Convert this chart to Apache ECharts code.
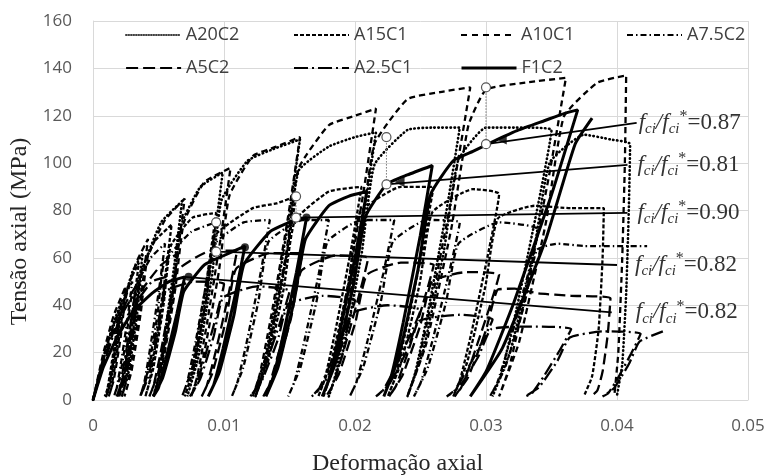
<!DOCTYPE html>
<html>
<head>
<meta charset="utf-8">
<script src="https://cdn.jsdelivr.net/npm/echarts/dist/echarts.min.js"></script>
<style>
html,body{margin:0;padding:0;background:#fff}
#chart{width:766px;height:476px}
</style>
</head>
<body>
<div id="chart"></div>
<script>
// Axis ticks
const xTickLabels = ['0', '0.01', '0.02', '0.03', '0.04', '0.05'];
const yTickLabels = ['0', '20', '40', '60', '80', '100', '120', '140', '160'];

// Cyclic stress-strain curves: [strain, stress (MPa)]
const A20C2 = [
  [0,0],[0.0009,20],[0.0016,33],[0.0022,42],
  [0.0019,29.4],[0.00148,13.9],[0.00118,4.2],[0.0010,1.5],[0.00136,7.6],[0.00184,23.1],[0.00216,37],
  [0.0030,54],[0.0038,62],
  [0.0034,43.4],[0.00284,20.5],[0.00244,6.2],[0.0022,1.5],[0.0027,11.2],[0.00332,34.1],[0.00375,54.6],
  [0.0052,75],[0.0068,84],
  [0.00625,58.8],[0.00548,27.7],[0.00493,8.4],[0.0046,1.5],[0.00526,15.1],[0.00614,46.2],[0.00673,73.9],
  [0.0082,90],[0.0099,96],
  [0.00923,67.2],[0.00828,31.7],[0.0076,9.6],[0.0072,1.5],[0.00801,17.3],[0.00909,52.8],[0.00982,84.5],
  [0.0118,101],[0.0138,106],[0.0158,110],
  [0.01495,77],[0.01376,36.3],[0.01291,11],[0.0124,1.5],[0.01342,19.8],[0.01478,60.5],[0.0157,96.8],
  [0.0180,107],[0.0200,111],[0.0216,113],
  [0.0207,79.1],[0.01944,37.3],[0.01854,11.3],[0.0180,1.5],[0.01908,20.3],[0.02052,62.2],[0.02149,99.4],
  [0.0240,114],[0.0260,115],[0.0280,115],
  [0.0270,80.5],[0.0256,38],[0.0246,11.5],[0.0240,1.5],[0.0252,20.7],[0.0268,63.3],[0.02788,101.2],
  [0.0300,115],[0.0330,115],[0.0350,114],
  [0.03388,79.8],[0.0323,37.6],[0.03118,11.4],[0.0305,1.5],[0.03185,20.5],[0.03365,62.7],[0.03487,100.3],
  [0.0375,112],[0.0395,110],[0.0410,108],
  [0.0409,80],[0.0407,45],[0.0404,15],[0.0400,2]
];
const A15C1 = [
  [0,0],[0.0008,18],[0.0014,29],[0.0020,38],
  [0.00173,26.6],[0.00134,12.5],[0.00107,3.8],[0.0009,1.5],[0.00123,6.8],[0.00167,20.9],[0.00197,33.4],
  [0.0028,50],[0.0035,58],
  [0.0031,40.6],[0.00254,19.1],[0.00214,5.8],[0.0019,1.5],[0.00238,10.4],[0.0030,31.9],[0.00345,51],
  [0.0047,67],[0.0060,74],
  [0.0055,51.8],[0.0048,24.4],[0.0043,7.4],[0.0040,1.5],[0.0046,13.3],[0.0054,40.7],[0.00594,65.1],
  [0.0076,77],[0.0094,79],
  [0.0088,55.3],[0.00796,26.1],[0.0074,7.9],[0.0070,1.5],[0.00772,14.2],[0.00868,43.5],[0.00933,69.5],
  [0.0122,81],[0.0140,83],[0.0155,86],
  [0.01473,60.2],[0.01364,28.4],[0.01286,8.6],[0.0124,1.5],[0.01333,15.5],[0.01457,47.3],[0.01541,75.7],
  [0.0180,88],[0.0205,90],
  [0.01968,63],[0.01852,29.7],[0.0177,9],[0.0172,1.5],[0.01819,16.2],[0.01951,49.5],[0.0204,79.2],
  [0.0235,90],[0.0260,90],
  [0.02513,63],[0.0239,29.7],[0.02303,9],[0.0225,1.5],[0.02355,16.2],[0.02495,49.5],[0.0259,79.2],
  [0.0290,89],[0.0310,87],
  [0.03013,60.9],[0.0289,28.7],[0.02803,8.7],[0.0275,1.5],[0.02855,15.7],[0.02995,47.9],[0.0309,76.6],
  [0.0337,82],[0.0365,81],[0.0390,81],
  [0.0389,60],[0.0386,30],[0.0381,10],[0.0375,2]
];
const A10C1 = [
  [0,0],[0.0008,20],[0.0016,36],[0.0025,48],
  [0.00218,33.6],[0.00172,15.8],[0.00139,4.8],[0.0012,1.5],[0.00159,8.6],[0.00211,26.4],[0.00246,42.2],
  [0.0033,58],[0.0042,68],
  [0.00375,47.6],[0.00312,22.4],[0.00267,6.8],[0.0024,1.5],[0.00294,12.2],[0.00366,37.4],[0.00415,59.8],
  [0.0055,76],[0.0070,85],
  [0.0064,59.5],[0.00556,28],[0.0050,8.5],[0.0046,1.5],[0.00532,15.3],[0.00628,46.8],[0.00693,74.8],
  [0.0085,92],[0.0105,98],
  [0.00975,68.6],[0.0087,32.3],[0.00795,9.8],[0.0075,1.5],[0.0084,17.6],[0.0096,53.9],[0.01041,86.2],
  [0.0122,103],[0.0140,107],[0.0158,111],
  [0.0149,77.7],[0.01364,36.6],[0.01274,11.1],[0.0122,1.5],[0.01328,20],[0.01472,61],[0.01569,97.7],
  [0.0180,116],[0.0200,120],[0.0216,123],
  [0.0206,86.1],[0.0192,40.6],[0.0182,12.3],[0.0176,1.5],[0.0188,22.1],[0.0204,67.7],[0.02148,108],
  [0.0240,127],[0.0265,130],[0.0288,132],
  [0.0276,92.4],[0.02592,43.6],[0.02472,13.2],[0.0240,1.5],[0.02544,23.8],[0.02736,72.6],[0.02866,116],
  [0.0300,131],[0.0330,134],[0.0361,136],
  [0.03483,95.2],[0.03304,44.9],[0.03177,13.6],[0.0310,1.5],[0.03253,24.5],[0.03457,74.8],[0.03595,119.7],
  [0.0385,134],[0.0407,137],
  [0.0406,100],[0.0404,60],[0.0401,20],[0.0398,2]
];
const A7_5C2 = [
  [0,0],[0.0008,17],[0.0017,33],[0.0024,44],[0.0030,50],
  [0.00265,35],[0.00216,16.5],[0.00181,5],[0.0016,1.5],[0.00202,9],[0.00258,27.5],[0.00296,44],
  [0.0044,60],[0.0055,66],
  [0.00503,46.2],[0.00436,21.8],[0.00389,6.6],[0.0036,1.5],[0.00417,11.9],[0.00493,36.3],[0.00544,58.1],
  [0.0075,71],[0.0094,75],
  [0.00875,52.5],[0.00784,24.8],[0.00719,7.5],[0.0068,1.5],[0.00758,13.5],[0.00862,41.3],[0.00932,66],
  [0.0115,75],[0.0135,76],
  [0.01278,53.2],[0.01176,25.1],[0.01103,7.6],[0.0106,1.5],[0.01147,13.7],[0.01263,41.8],[0.01341,66.9],
  [0.0160,76],[0.0180,76],
  [0.01723,53.2],[0.01614,25.1],[0.01537,7.6],[0.0149,1.5],[0.01583,13.7],[0.01707,41.8],[0.01791,66.9],
  [0.0205,76],[0.0230,76],
  [0.02215,53.2],[0.02096,25.1],[0.02011,7.6],[0.0196,1.5],[0.02062,13.7],[0.02198,41.8],[0.0229,66.9],
  [0.0255,76],[0.0280,75],
  [0.02713,52.5],[0.0259,24.8],[0.02503,7.5],[0.0245,1.5],[0.02555,13.5],[0.02695,41.3],[0.0279,66],
  [0.0310,75],[0.0340,72],
  [0.03308,50.4],[0.03178,23.8],[0.03086,7.2],[0.0303,1.5],[0.03141,13],[0.03289,39.6],[0.03389,63.4],
  [0.0355,66],[0.0375,65],[0.0400,65],[0.0423,65]
];
const A5C2 = [
  [0,0],[0.0008,16],[0.0017,31],[0.0026,42],[0.0035,50],
  [0.00313,35],[0.0026,16.5],[0.00223,5],[0.0020,1.5],[0.00245,9],[0.00305,27.5],[0.00346,44],
  [0.0052,57],[0.0065,62],
  [0.00595,43.4],[0.00518,20.5],[0.00463,6.2],[0.0043,1.5],[0.00496,11.2],[0.00584,34.1],[0.00643,54.6],
  [0.0090,63],[0.0110,63],
  [0.01033,44.1],[0.00938,20.8],[0.0087,6.3],[0.0083,1.5],[0.00911,11.3],[0.01019,34.7],[0.01092,55.4],
  [0.0135,62],[0.0160,62],
  [0.01525,43.4],[0.0142,20.5],[0.01345,6.2],[0.0130,1.5],[0.0139,11.2],[0.0151,34.1],[0.01591,54.6],
  [0.0185,61],[0.0210,60],
  [0.0202,42],[0.01908,19.8],[0.01828,6],[0.0178,1.5],[0.01876,10.8],[0.02004,33],[0.0209,52.8],
  [0.0235,58],[0.0260,57],
  [0.02515,39.9],[0.02396,18.8],[0.02311,5.7],[0.0226,1.5],[0.02362,10.3],[0.02498,31.4],[0.0259,50.2],
  [0.0285,54],[0.0310,53],
  [0.03015,37.1],[0.02896,17.5],[0.02811,5.3],[0.0276,1.5],[0.02862,9.5],[0.02998,29.2],[0.0309,46.6],
  [0.0322,47],[0.0340,45],[0.0365,44],[0.0395,43],
  [0.0393,28],[0.0389,12],[0.0385,4],[0.0380,1.5]
];
const A2_5C1 = [
  [0,0],[0.0008,15],[0.0016,28],[0.0024,38],[0.0032,45],
  [0.00285,31.5],[0.00236,14.9],[0.00201,4.5],[0.0018,1.5],[0.00222,8.1],[0.00278,24.8],[0.00316,39.6],
  [0.0045,50],[0.0056,52],
  [0.0051,36.4],[0.0044,17.2],[0.0039,5.2],[0.0036,1.5],[0.0042,9.4],[0.0050,28.6],[0.00554,45.8],
  [0.0078,50],[0.0100,49],
  [0.00935,34.3],[0.00844,16.2],[0.00779,4.9],[0.0074,1.5],[0.00818,8.8],[0.00922,27],[0.00992,43.1],
  [0.0125,48],[0.0150,46],
  [0.01425,32.2],[0.0132,15.2],[0.01245,4.6],[0.0120,1.5],[0.0129,8.3],[0.0141,25.3],[0.01491,40.5],
  [0.0175,44],[0.0200,42],
  [0.01918,29.4],[0.01802,13.9],[0.0172,4.2],[0.0167,1.5],[0.01769,7.6],[0.01901,23.1],[0.0199,37],
  [0.0225,40],[0.0250,38],
  [0.02415,26.6],[0.02296,12.5],[0.02211,3.8],[0.0216,1.5],[0.02262,6.8],[0.02398,20.9],[0.0249,33.4],
  [0.0280,36],[0.0305,34],
  [0.02963,23.8],[0.0284,11.2],[0.02753,3.4],[0.0270,1.5],[0.02805,6.1],[0.02945,18.7],[0.0304,29.9],
  [0.0335,31],[0.0365,30],
  [0.03563,21],[0.0344,9.9],[0.03353,3],[0.0330,1.5],[0.03405,5.4],[0.03545,16.5],[0.0364,26.4],
  [0.0390,29],[0.0418,28],
  [0.04108,19.6],[0.04006,9.2],[0.03933,2.8],[0.0389,1.5],[0.03977,5],[0.04093,15.4],[0.04171,24.6],
  [0.0435,29]
];
const F1C2 = [
  [0,0],[0.0008,14],[0.0018,26],[0.0030,37],[0.0045,45],[0.0058,50],[0.0070,52],
  [0.0064,36.4],[0.00556,17.2],[0.0050,5.2],[0.0046,1.5],[0.00532,9.4],[0.00628,28.6],[0.00693,45.8],
  [0.0085,57],[0.0100,61],[0.0116,65],
  [0.0109,45.5],[0.00992,21.5],[0.00922,6.5],[0.0088,1.5],[0.00964,11.7],[0.01076,35.8],[0.01152,57.2],
  [0.0135,71],[0.0150,75],[0.0163,77],
  [0.01553,53.9],[0.01444,25.4],[0.01366,7.7],[0.0132,1.5],[0.01413,13.9],[0.01537,42.4],[0.01621,67.8],
  [0.0180,82],[0.0195,86],[0.0209,88],
  [0.02005,61.6],[0.01886,29],[0.01801,8.8],[0.0175,1.5],[0.01852,15.8],[0.01988,48.4],[0.0208,77.4],
  [0.0224,91],[0.0240,95],[0.0259,99],
  [0.02498,69.3],[0.02368,32.7],[0.02276,9.9],[0.0222,1.5],[0.02331,17.8],[0.02479,54.5],[0.02579,87],
  [0.0275,101],[0.0290,105],[0.0305,109],[0.0325,114],[0.0345,118],[0.0360,121],[0.0370,122.5],
  [0.03495,85.8],[0.03208,40.4],[0.03003,12.3],[0.0288,1.5],[0.03126,22],[0.03454,67.4],[0.0368,108],
  [0.0381,119]
];

// Fitted post-peak lines: start and end points, with their strength ratios
const fitLines = [
  [[0.0300,108],[0.0415,117]],
  [[0.0224,91],[0.0408,99.3]],
  [[0.0155,77],[0.0408,79]],
  [[0.0094,62.6],[0.0400,57]],
  [[0.0070,52],[0.0396,37]]
];
const fitRatios = ['0.87', '0.81', '0.90', '0.82', '0.82'];

// Peak / residual pairs (hollow circles joined by a dotted stem)
const peakPairs = [
  [[0.0094,75],[0.0094,62.6]],
  [[0.0155,86],[0.0155,77]],
  [[0.0224,111],[0.0224,91]],
  [[0.0300,132],[0.0300,108]]
];
const triangleMarks = [[0.0234,92],[0.0312,110]];
const dotMarks = [[0.0163,77],[0.0116,64.5],[0.0073,52]];

const seriesNames = ['A20C2', 'A15C1', 'A10C1', 'A7.5C2', 'A5C2', 'A2.5C1', 'F1C2'];
const seriesData = [A20C2, A15C1, A10C1, A7_5C2, A5C2, A2_5C1, F1C2];

const lineStyles = [
  { type: [0.5, 3.5], width: 2.6, cap: 'round' },
  { type: [4, 2], width: 2.3 },
  { type: [6, 4], width: 2.3 },
  { type: [6, 3, 1.5, 3], width: 2.3 },
  { type: [11, 5], width: 2.3 },
  { type: [13, 4, 2, 4], width: 2.3 },
  { type: 'solid', width: 3 }
];
const legendLineStyles = [
  { type: [1, 1.5], width: 1.6 },
  { type: [4, 2], width: 2 },
  { type: [6, 5], width: 2 },
  { type: [6, 3, 1.5, 3], width: 2 },
  { type: [12, 5], width: 2.2 },
  { type: [14, 4, 2, 4], width: 2 },
  { type: 'solid', width: 3 }
];
const legendSpots = [
  { left: 120, top: 21 }, { left: 288, top: 21 }, { left: 455, top: 21 }, { left: 621, top: 21 },
  { left: 120, top: 54 }, { left: 288, top: 54 }, { left: 455, top: 54 }
];

const serif = '"Liberation Serif", "Times New Roman", serif';
const sans = '"Open Sans", "Noto Sans", sans-serif';

const series = [];
seriesNames.forEach((name, i) => {
  series.push({
    name: name,
    type: 'line',
    data: seriesData[i],
    symbol: 'none',
    smooth: 0.15,
    z: i === 6 ? 6 : 3,
    itemStyle: { color: '#000' },
    lineStyle: Object.assign({ color: '#000' }, lineStyles[i])
  });
});

const ratioRich = {
  i: { fontFamily: serif, fontStyle: 'italic', fontSize: 23, color: '#333', lineHeight: 28 },
  s: { fontFamily: serif, fontStyle: 'italic', fontSize: 15, color: '#333', verticalAlign: 'bottom', lineHeight: 15 },
  p: { fontFamily: serif, fontSize: 16, color: '#333', verticalAlign: 'top', lineHeight: 15 },
  n: { fontFamily: serif, fontSize: 23, color: '#333', lineHeight: 28 }
};
const labelDistances = [2, 10, 10, 18, 24];
fitLines.forEach((seg, i) => {
  series.push({
    type: 'line',
    data: seg,
    symbol: 'none',
    z: 5,
    lineStyle: { color: '#000', width: 1.8 },
    endLabel: {
      show: true,
      distance: labelDistances[i],
      formatter: '{i|f}{s|ci}{i|/f}{s|ci}{p|*}{n|=' + fitRatios[i] + '}',
      rich: ratioRich
    }
  });
});

peakPairs.forEach(pair => {
  series.push({
    type: 'line',
    data: pair,
    symbol: 'circle',
    symbolSize: 9,
    showSymbol: true,
    z: 7,
    lineStyle: { color: '#777', width: 1, type: [1.5, 1.5] },
    itemStyle: { color: '#fff', borderColor: '#555', borderWidth: 1.2 }
  });
});

series.push({
  type: 'scatter',
  data: triangleMarks,
  symbol: 'triangle',
  symbolRotate: 90,
  symbolSize: 10,
  z: 7,
  itemStyle: { color: '#000' }
});
series.push({
  type: 'scatter',
  data: dotMarks,
  symbol: 'circle',
  symbolSize: 8,
  z: 7,
  itemStyle: { color: '#000' }
});

const legends = seriesNames.map((name, i) => ({
  data: [name],
  left: legendSpots[i].left,
  top: legendSpots[i].top,
  itemWidth: 55,
  itemHeight: 14,
  selectedMode: false,
  itemStyle: { opacity: 0 },
  lineStyle: Object.assign({ color: '#000', opacity: 1 }, legendLineStyles[i]),
  textStyle: { fontFamily: sans, fontSize: 18, color: '#404040' }
}));

const chart = echarts.init(document.getElementById('chart'));
chart.setOption({
  animation: false,
  backgroundColor: '#fff',
  grid: { left: 93, right: 18, top: 21, bottom: 76, containLabel: false, outerBoundsMode: 'none' },
  legend: legends,
  xAxis: {
    type: 'value',
    min: 0, max: 0.05, interval: 0.01,
    name: 'Deformação axial',
    nameLocation: 'middle',
    nameGap: 52,
    nameTextStyle: { fontFamily: serif, fontSize: 24, color: '#262626', padding: [0, 46, 0, 0] },
    axisLine: { lineStyle: { color: '#d9d9d9' } },
    axisTick: { show: false },
    axisLabel: {
      margin: 18,
      fontFamily: sans, fontSize: 17, color: '#595959',
      formatter: v => xTickLabels[Math.round(v / 0.01)]
    },
    splitLine: { show: true, lineStyle: { color: '#d9d9d9', width: 1 } }
  },
  yAxis: {
    type: 'value',
    min: 0, max: 160, interval: 20,
    name: 'Tensão axial (MPa)',
    nameLocation: 'middle',
    nameGap: 58,
    nameTextStyle: { fontFamily: serif, fontSize: 24, color: '#262626', padding: [0, 42, 0, 0] },
    axisLine: { show: true, lineStyle: { color: '#d9d9d9' } },
    axisTick: { show: false },
    axisLabel: {
      margin: 21,
      fontFamily: sans, fontSize: 17, color: '#595959',
      formatter: v => yTickLabels[Math.round(v / 20)]
    },
    splitLine: { show: true, lineStyle: { color: '#d9d9d9', width: 1 } }
  },
  series: series
});
</script>
</body>
</html>
